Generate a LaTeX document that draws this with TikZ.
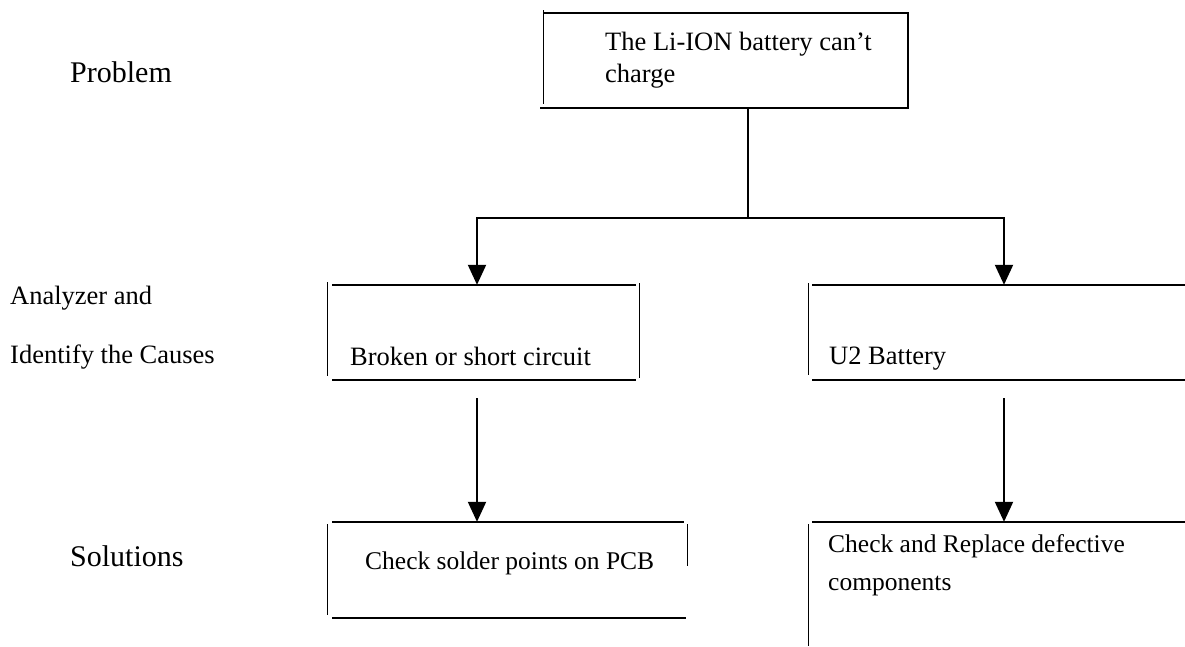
\documentclass[tikz,border=0pt]{standalone}
\usepackage{fontspec}
\setmainfont{Liberation Serif}
\usetikzlibrary{arrows.meta}
\begin{document}
\begin{tikzpicture}[x=1pt,y=-1pt,
  boxarea/.style={draw=none,inner sep=0pt,minimum width=#1},
  thickedge/.style={line width=2pt},
  thinedge/.style={line width=0.9pt},
  txt/.style={anchor=base west,inner sep=0pt,font=\fontsize{26.5}{32}\selectfont},
  txtb/.style={anchor=base west,inner sep=0pt,font=\fontsize{25.5}{32}\selectfont},
  big/.style={anchor=base west,inner sep=0pt,font=\fontsize{30}{36}\selectfont},
  link/.style={line width=2pt},
  conn/.style={line width=2pt,-{Triangle[length=20pt,width=18pt]}}]
\useasboundingbox (0,0) rectangle (1185,646);
% box areas
\node[boxarea=365pt,minimum height=95pt] (b1) at (725.5,60.5) {};
\node[boxarea=304pt,minimum height=95pt] (b2) at (484,332.5) {};
\node[boxarea=373pt,minimum height=95pt] (b3) at (998.5,332.5) {};
\node[boxarea=352pt,minimum height=96pt] (b4) at (508,570) {};
\node[boxarea=373pt,minimum height=124pt] (b5) at (998.5,584) {};
% box 1 borders
\draw[thickedge] (543,13) -- (908,13) -- (908,108) -- (540,108);
\draw[thinedge] (543,10) -- (543,104);
% box 2 borders
\draw[thickedge] (332,285) -- (636,285);
\draw[thickedge] (332,380) -- (636,380);
\draw[thinedge] (327,282) -- (327,376);
\draw[thinedge] (639,283) -- (639,378);
% box 3 borders
\draw[thickedge] (812,285) -- (1185,285);
\draw[thickedge] (812,380) -- (1185,380);
\draw[thinedge] (808,283) -- (808,375);
% box 4 borders
\draw[thickedge] (332,522) -- (684,522);
\draw[thickedge] (332,618) -- (686,618);
\draw[thinedge] (327,524) -- (327,615);
\draw[thinedge] (687,524) -- (687,566);
% box 5 borders
\draw[thickedge] (812,522) -- (1185,522);
\draw[thinedge] (808,524) -- (808,646);
% texts
\node[txt] (t1a) at (605,50) {The Li-ION battery can’t};
\node[txt] (t1b) at (605,82) {charge};
\node[txt] (t2) at (350,365) {Broken or short circuit};
\node[txt] (t3) at (829,364) {U2 Battery};
\node[txtb] (t4) at (365,569) {Check solder points on PCB};
\node[txtb] (t5a) at (828,552) {Check and Replace defective};
\node[txtb] (t5b) at (828,590) {components};
% row labels
\node[big] (lp) at (70,82) {Problem};
\node[txt] (la1) at (10,304) {Analyzer and};
\node[txt] (la2) at (10,363) {Identify the Causes};
\node[big] (ls) at (70,566) {Solutions};
% connectors
\coordinate (j) at (748,218);
\coordinate (jl) at (477,218);
\coordinate (jr) at (1004,218);
\draw[link] (b1.south -| j) -- (j);
\draw[conn] (j) -- (jl) -- (jl |- b2.north);
\draw[conn] (j) -- (jr) -- (jr |- b3.north);
\coordinate (sl) at ([yshift=-18pt]b2.south -| jl);
\coordinate (sr) at ([yshift=-18pt]b3.south -| jr);
\draw[conn] (sl) -- (jl |- b4.north);
\draw[conn] (sr) -- (jr |- b5.north);
\end{tikzpicture}
\end{document}
